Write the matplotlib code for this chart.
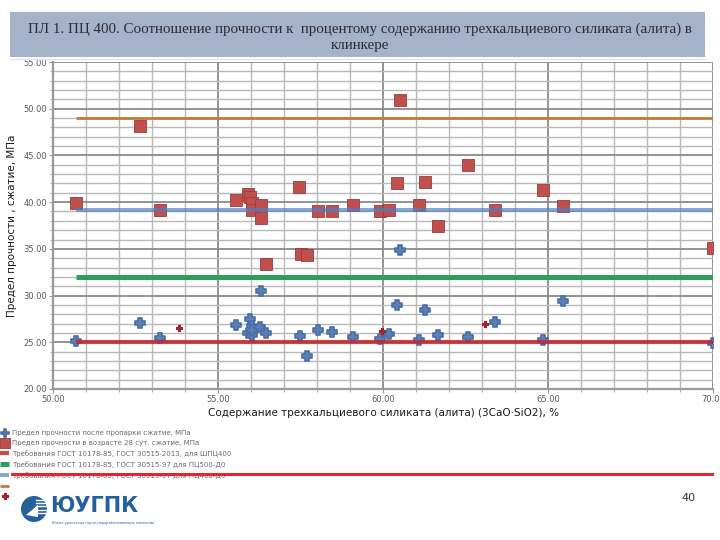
import matplotlib
matplotlib.use('Agg')
import matplotlib.pyplot as plt
from matplotlib.patches import Rectangle, Circle, Polygon
from matplotlib.lines import Line2D
from matplotlib.ticker import MultipleLocator, FormatStrFormatter

plt.rcParams['font.family'] = ['DejaVu Sans']

# --- данные ---
# после пропарки
c3s_steam = [50.70, 52.65, 53.24, 55.55, 55.97, 56.02, 55.92, 56.02, 56.04,
             56.27, 56.29, 56.44, 57.47, 57.71, 58.03, 58.45, 59.10, 59.91,
             60.19, 60.41, 60.52, 61.08, 61.28, 61.68, 62.57, 63.40, 64.84,
             65.45, 70.00]
strength_steam = [25.15, 27.10, 25.50, 26.85, 27.45, 26.70, 25.95, 25.80, 26.30,
                  26.60, 30.50, 25.95, 25.65, 23.50, 26.35, 26.15, 25.55, 25.40,
                  25.90, 28.95, 34.85, 25.20, 28.45, 25.75, 25.60, 27.15, 25.25,
                  29.45, 24.95]

# в возрасте 28 сут
c3s_28 = [50.70, 52.65, 53.24, 55.55, 55.92, 55.98, 56.02, 56.04, 56.29, 56.29,
          56.45, 57.46, 57.50, 57.70, 58.04, 58.44, 59.10, 59.91, 60.19, 60.41,
          60.52, 61.08, 61.28, 61.68, 62.57, 63.40, 64.86, 65.45, 70.00]
strength_28 = [39.90, 48.20, 39.20, 40.20, 40.85, 40.55, 39.90, 39.20, 39.70, 38.35,
               33.40, 41.60, 34.50, 34.30, 39.00, 39.05, 39.65, 39.00, 39.20, 42.10,
               50.90, 39.65, 42.20, 37.40, 43.95, 39.20, 41.25, 39.60, 35.05]

# отдельная серия (красные точки)
c3s_extra = [53.83, 59.98, 63.10]
strength_extra = [26.50, 26.20, 26.95]

# требования ГОСТ
gost_levels = [25.0, 32.0, 39.2, 49.0]
gost_labels = ['Требования ГОСТ 10178-85, ГОСТ 30515-2013, для ШПЦ400',
               'Требования ГОСТ 10178-85, ГОСТ 30515-97 для ПЦ500-Д0',
               'Требования ГОСТ 10178-85, ГОСТ 30515-97 для ПЦ400-Д0',
               '']
gost_colors = ['#c0282d', '#2e9e5b', '#4f7fbd', '#c4783a']
gost_widths = [3.0, 3.6, 2.8, 2.0]
gost_alpha = [0.85, 1.0, 0.7, 1.0]

title = ('ПЛ 1. ПЦ 400. Соотношение прочности к  процентому содержанию '
         'трехкальциевого силиката (алита) в\nклинкере')

W, H = 720, 540
fig = plt.figure(figsize=(7.2, 5.4), dpi=100)

# заголовок в плашке
fig.add_artist(Rectangle((10 / W, 1 - 57 / H), 695 / W, 45 / H,
                         transform=fig.transFigure, facecolor='#a4b3ca',
                         edgecolor='none'))
fig.add_artist(Line2D([10 / W, 705 / W], [1 - 59 / H] * 2, color='#dbe6f3',
                      lw=1.0, transform=fig.transFigure))
fig.text(0.5, 1 - 37 / H, title, ha='center', va='center', fontsize=10.8,
         family='Liberation Serif', color='#2b2b38', linespacing=1.3)

ax = fig.add_axes([53 / W, 151 / H, 660 / W, 327 / H])
ax.set_xlim(50, 70)
ax.set_ylim(20, 55)

ax.xaxis.set_major_locator(MultipleLocator(5))
ax.xaxis.set_minor_locator(MultipleLocator(1))
ax.yaxis.set_major_locator(MultipleLocator(5))
ax.yaxis.set_minor_locator(MultipleLocator(1))
ax.xaxis.set_major_formatter(FormatStrFormatter('%.2f'))
ax.yaxis.set_major_formatter(FormatStrFormatter('%.2f'))
ax.grid(which='minor', color='#b8b8b8', lw=1.0)
ax.grid(which='major', color='#8a8a8a', lw=1.3)
ax.set_axisbelow(True)
for side in ['top', 'right']:
    ax.spines[side].set_visible(False)
for side in ['left', 'bottom']:
    ax.spines[side].set_color('#9a9a9a')
    ax.spines[side].set_linewidth(1.6)
ax.tick_params(which='major', length=3, color='#9a9a9a', labelsize=6,
               labelcolor='#5a5a5a', pad=1.5)
ax.tick_params(which='minor', length=2, color='#9a9a9a')

ax.set_xlabel('Содержание трехкальциевого силиката (алита) (3CaO·SiO2), %',
              fontsize=7.5, color='#1a1a1a', labelpad=3)
ax.set_ylabel('Предел прочности , сжатие, МПа', fontsize=7.5,
              color='#1a1a1a', labelpad=4)

sc_steam = ax.scatter(c3s_steam, strength_steam, marker='P', s=42,
                      color='#5b80b8', edgecolor='#4a6ea5', linewidth=1.2,
                      zorder=3)
sc_28 = ax.scatter(c3s_28, strength_28, marker='s', s=68, color='#c0504d',
                   edgecolor='#9a3c3a', linewidth=0.6, zorder=3)
sc_extra = ax.scatter(c3s_extra, strength_extra, marker='P', s=22,
                      color='#b8232f', edgecolor='#a01e28', linewidth=0.8,
                      zorder=3)

x0, x1 = min(c3s_steam), max(c3s_steam)
gost_lines = []
for lvl, col, lw_, a in zip(gost_levels, gost_colors, gost_widths, gost_alpha):
    ln, = ax.plot([x0, x1], [lvl, lvl], color=col, lw=lw_, alpha=a, zorder=4,
                  solid_capstyle='butt')
    gost_lines.append(ln)

handles = [sc_steam, sc_28, gost_lines[0], gost_lines[1], gost_lines[2],
           gost_lines[3], sc_extra]
labels = ['Предел прочности после пропарки сжатие, МПа',
          'Предел прочности в возрасте 28 сут. сжатие, МПа',
          gost_labels[0], gost_labels[1], gost_labels[2], gost_labels[3], '']
fig.legend(handles, labels, loc='upper left',
           bbox_to_anchor=(0 / W, 1 - 430 / H), frameon=False, fontsize=5,
           labelcolor='#6a6a6a', handlelength=1.3, handletextpad=0.4,
           labelspacing=0.58, borderaxespad=0, borderpad=0, markerscale=0.8)

# красная линия поверх легенды
fig.add_artist(Line2D([12 / W, 712 / W], [1 - 474 / H] * 2, color='#e3262b',
                      lw=2.2, transform=fig.transFigure, zorder=10))

# логотип
fig.add_artist(Circle((34, H - 509), 13, transform=None, facecolor='#24609c',
                      edgecolor='none'))
for k in range(5):
    yy = H - 500 - k * 3.2
    fig.add_artist(Line2D([36 / W, 46 / W], [yy / H, yy / H], color='white',
                          lw=1.0, transform=fig.transFigure))
fig.add_artist(Polygon([(26 / W, 1 - 515 / H), (38 / W, 1 - 505 / H),
                        (38 / W, 1 - 517 / H)], closed=True,
                       transform=fig.transFigure, facecolor='white',
                       edgecolor='none'))
fig.text(50 / W, 1 - 506 / H, 'ЮУГПК', fontsize=15, fontweight='bold',
         color='#24609c', va='center', ha='left')
fig.text(52 / W, 1 - 523 / H,
         'Южно-уральская горно-перерабатывающая компания', fontsize=2.5,
         color='#24609c', va='center', ha='left')

fig.text(688 / W, 1 - 498 / H, '40', fontsize=8, color='#333333',
         ha='center', va='center')

fig.savefig('out.png', dpi=100)
